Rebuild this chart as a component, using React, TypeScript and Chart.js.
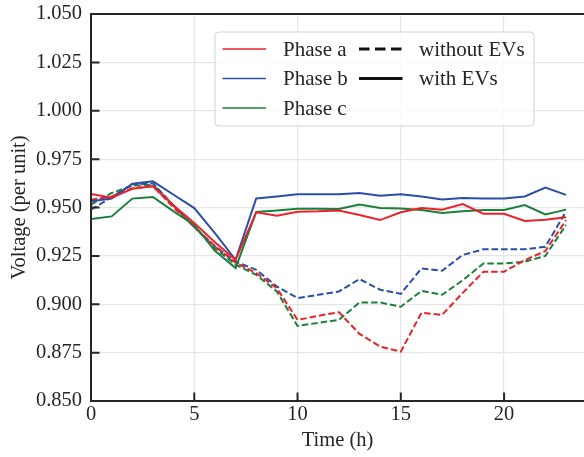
import React, { useEffect, useRef } from "react";
import { Chart, registerables } from "chart.js";

Chart.register(...registerables);

// ---------- data ----------
const hours = [0, 1, 2, 3, 4, 5, 6, 7, 8, 9, 10, 11, 12, 13, 14, 15, 16, 17, 18, 19, 20, 21, 22, 23];

const phaseAWithEV = [0.957, 0.955, 0.9597, 0.961, 0.951, 0.942, 0.932, 0.923, 0.9475, 0.9458, 0.9478, 0.948, 0.9485, 0.9461, 0.9435, 0.9475, 0.9497, 0.9489, 0.9518, 0.9468, 0.9468, 0.943, 0.9437, 0.9449];
const phaseBWithEV = [0.9532, 0.9546, 0.9623, 0.9635, 0.9566, 0.9497, 0.9368, 0.923, 0.9547, 0.9557, 0.9568, 0.9568, 0.9568, 0.9575, 0.9561, 0.9568, 0.9557, 0.9542, 0.9549, 0.9546, 0.9546, 0.9557, 0.9603, 0.9565];
const phaseCWithEV = [0.944, 0.9454, 0.9546, 0.9554, 0.948, 0.941, 0.9276, 0.9187, 0.9477, 0.9485, 0.9494, 0.9494, 0.9492, 0.9515, 0.9497, 0.9495, 0.9487, 0.9471, 0.948, 0.9487, 0.9487, 0.9513, 0.9464, 0.9489];

const phaseANoEV = [0.954, 0.9557, 0.96, 0.961, 0.95, 0.94, 0.93, 0.9215, 0.9161, 0.9083, 0.8919, 0.894, 0.8959, 0.8847, 0.8781, 0.8755, 0.8956, 0.8945, 0.9059, 0.9168, 0.9168, 0.9228, 0.9275, 0.9435];
const phaseBNoEV = [0.9489, 0.9553, 0.962, 0.9625, 0.951, 0.94, 0.93, 0.922, 0.9178, 0.9092, 0.9032, 0.9049, 0.9066, 0.913, 0.9075, 0.9054, 0.9185, 0.9173, 0.9255, 0.9284, 0.9284, 0.9284, 0.9297, 0.948];
const phaseCNoEV = [0.9515, 0.9575, 0.9613, 0.9618, 0.951, 0.94, 0.929, 0.9205, 0.9152, 0.9066, 0.8888, 0.8904, 0.8919, 0.9009, 0.9009, 0.8987, 0.9069, 0.9049, 0.9124, 0.9211, 0.9211, 0.922, 0.925, 0.941];

const phaseLabels = ["Phase a", "Phase b", "Phase c"];
const styleLabels = ["without EVs", "with EVs"];
const xTickValues = [0, 5, 10, 15, 20];
const yTickValues = [0.85, 0.875, 0.9, 0.925, 0.95, 0.975, 1.0, 1.025, 1.05];

const phaseColors = ["#e8232a", "#2b4fa6", "#1a7f3a"];
const FONT = "'Liberation Serif', 'DejaVu Serif', serif";

const toPts = (vals: number[]) => vals.map((v, i) => ({ x: hours[i], y: v }));

const framePlugin = {
  id: "frame",
  afterDatasetsDraw(chart: any) {
    const { ctx, chartArea, scales } = chart;
    const { left, right, top, bottom } = chartArea;
    ctx.save();
    ctx.strokeStyle = "#262626";
    ctx.lineWidth = 2;
    ctx.lineCap = "butt";
    ctx.beginPath();
    ctx.moveTo(left - 1, top);
    ctx.lineTo(right + 2, top);
    ctx.moveTo(left, top);
    ctx.lineTo(left, bottom);
    ctx.moveTo(left - 1, bottom);
    ctx.lineTo(right + 2, bottom);
    ctx.stroke();
    // inward ticks
    const tl = 8.5;
    ctx.beginPath();
    xTickValues.forEach((v) => {
      const px = scales.x.getPixelForValue(v);
      ctx.moveTo(px, bottom);
      ctx.lineTo(px, bottom - tl);
    });
    yTickValues.forEach((v) => {
      const py = scales.y.getPixelForValue(v);
      ctx.moveTo(left, py);
      ctx.lineTo(left + tl, py);
    });
    ctx.stroke();
    ctx.restore();
  },
};

const legendPlugin = {
  id: "customLegend",
  afterDraw(chart: any) {
    const ctx = chart.ctx;
    const bx = 215, by = 32, bw = 319, bh = 94, r = 4;
    ctx.save();
    ctx.beginPath();
    ctx.moveTo(bx + r, by);
    ctx.lineTo(bx + bw - r, by);
    ctx.quadraticCurveTo(bx + bw, by, bx + bw, by + r);
    ctx.lineTo(bx + bw, by + bh - r);
    ctx.quadraticCurveTo(bx + bw, by + bh, bx + bw - r, by + bh);
    ctx.lineTo(bx + r, by + bh);
    ctx.quadraticCurveTo(bx, by + bh, bx, by + bh - r);
    ctx.lineTo(bx, by + r);
    ctx.quadraticCurveTo(bx, by, bx + r, by);
    ctx.closePath();
    ctx.fillStyle = "rgba(255,255,255,0.8)";
    ctx.fill();
    ctx.strokeStyle = "#d2d2d2";
    ctx.lineWidth = 1;
    ctx.stroke();

    const rows = [49, 78.5, 108];
    ctx.font = `21px ${FONT}`;
    ctx.textBaseline = "middle";
    ctx.textAlign = "left";
    phaseLabels.forEach((lab, i) => {
      ctx.strokeStyle = phaseColors[i];
      ctx.lineWidth = 1.5;
      ctx.setLineDash([]);
      ctx.beginPath();
      ctx.moveTo(222.5, rows[i]);
      ctx.lineTo(266, rows[i]);
      ctx.stroke();
      ctx.fillStyle = "#262626";
      ctx.fillText(lab, 283, rows[i] + 1);
    });
    styleLabels.forEach((lab, i) => {
      ctx.strokeStyle = "#111111";
      ctx.lineWidth = 2.8;
      ctx.setLineDash(i === 0 ? [10.5, 5.5] : []);
      ctx.beginPath();
      ctx.moveTo(359, rows[i]);
      ctx.lineTo(402.5, rows[i]);
      ctx.stroke();
      ctx.setLineDash([]);
      ctx.fillStyle = "#262626";
      ctx.fillText(lab, 419, rows[i] + 1);
    });
    ctx.restore();
  },
};

export default function App() {
  const ref = useRef<HTMLCanvasElement | null>(null);

  useEffect(() => {
    if (!ref.current) return;
    const mk = (label: string, data: number[], color: string, dashed: boolean) => ({
      label,
      data: toPts(data),
      borderColor: color,
      backgroundColor: color,
      borderWidth: 2,
      borderDash: dashed ? [6.5, 3] : [],
      pointRadius: 0,
      tension: 0,
      fill: false,
    });
    const chart = new Chart(ref.current, {
      type: "line",
      data: {
        datasets: [
          mk("Phase a with EVs", phaseAWithEV, phaseColors[0], false),
          mk("Phase b with EVs", phaseBWithEV, phaseColors[1], false),
          mk("Phase c with EVs", phaseCWithEV, phaseColors[2], false),
          mk("Phase a without EVs", phaseANoEV, phaseColors[0], true),
          mk("Phase b without EVs", phaseBNoEV, phaseColors[1], true),
          mk("Phase c without EVs", phaseCNoEV, phaseColors[2], true),
        ],
      },
      options: {
        animation: false,
        responsive: false,
        maintainAspectRatio: false,
        layout: { padding: { left: 0, right: 0, top: 14, bottom: 0 } },
        plugins: { legend: { display: false }, tooltip: { enabled: false } },
        scales: {
          x: {
            type: "linear",
            min: 0,
            max: 23.87,
            afterFit: (s: any) => { s.height = 56; },
            border: { display: false },
            grid: { color: "#e6e6e6", lineWidth: 1.2, drawTicks: true, tickLength: 1, tickColor: "rgba(0,0,0,0)" },
            ticks: {
              stepSize: 5,
              includeBounds: false,
              padding: 0,
              color: "#262626",
              font: { family: FONT, size: 20.5 },
              maxRotation: 0,
            },
            title: {
              display: true,
              text: "Time (h)",
              color: "#262626",
              font: { family: FONT, size: 20.5 },
              padding: { top: 0, bottom: 4 },
            },
          },
          y: {
            type: "linear",
            min: 0.85,
            max: 1.05,
            afterFit: (s: any) => { s.width = 91; },
            border: { display: false },
            grid: { color: "#e6e6e6", lineWidth: 1.2, drawTicks: true, tickLength: 9, tickColor: "rgba(0,0,0,0)" },
            ticks: {
              stepSize: 0.025,
              padding: 0,
              color: "#262626",
              font: { family: FONT, size: 20.5 },
              callback: (v: any) => Number(v).toFixed(3),
            },
            title: {
              display: true,
              text: "Voltage (per unit)",
              color: "#262626",
              font: { family: FONT, size: 20.5 },
              padding: { top: 7, bottom: 0 },
            },
          },
        },
      },
      plugins: [framePlugin, legendPlugin],
    } as any);
    return () => chart.destroy();
  }, []);

  return (
    <div style={{ position: "absolute", left: 0, top: 0, width: 584, height: 457, background: "#fff" }}>
      <canvas ref={ref} width={584} height={457} style={{ display: "block" }} />
    </div>
  );
}
